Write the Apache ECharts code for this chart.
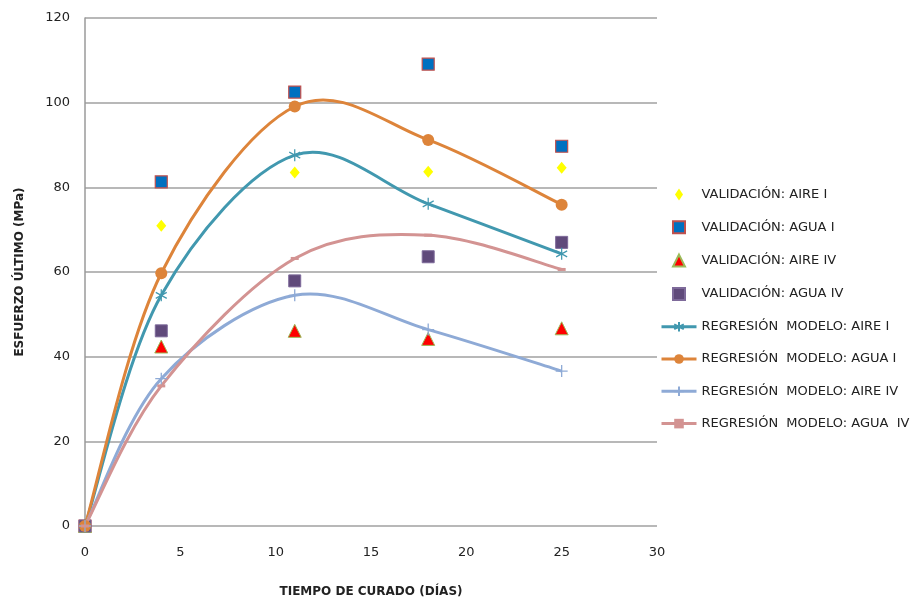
<!DOCTYPE html>
<html>
<head>
<meta charset="utf-8">
<script src="https://cdn.jsdelivr.net/npm/echarts@6/dist/echarts.min.js"></script>
<style>html,body{margin:0;padding:0;background:#fff;}#c{width:924px;height:597px;}</style>
</head>
<body>
<div id="c"></div>
<script>
// Days of curing
const days = [0, 4, 11, 18, 25];
// Validation data (MPa)
const valAireI  = [0, 70.9, 83.5, 83.7, 84.6];
const valAguaI  = [0, 81.3, 102.5, 109.1, 89.7];
const valAireIV = [0, 42.4, 46.1, 44.2, 46.7];
const valAguaIV = [0, 46.1, 57.9, 63.6, 67.0];
// Regression model (MPa)
const regAireI  = [0, 54.5, 87.6, 76.1, 64.3];
const regAguaI  = [0, 59.7, 99.1, 91.2, 75.9];
const regAireIV = [0, 34.8, 54.5, 46.4, 36.6];
const regAguaIV = [0, 33.1, 63.2, 68.7, 60.6];
// Axis ticks
const xTicks = [0, 5, 10, 15, 20, 25, 30];
const yTicks = [0, 20, 40, 60, 80, 100, 120];

const names = [
  'VALIDACIÓN: AIRE I', 'VALIDACIÓN: AGUA I', 'VALIDACIÓN: AIRE IV', 'VALIDACIÓN: AGUA IV',
  'REGRESIÓN  MODELO: AIRE I', 'REGRESIÓN  MODELO: AGUA I', 'REGRESIÓN  MODELO: AIRE IV', 'REGRESIÓN  MODELO: AGUA  IV'
];
const pair = arr => days.map((d, i) => [d, arr[i]]);

function scatter(name, arr, symbol, size, color, border, bw) {
  return { name, type: 'scatter', data: pair(arr), symbol, symbolSize: size,
    itemStyle: { color, borderColor: border, borderWidth: bw, opacity: 1 }, z: 2 };
}
// line series: markers + legend entry (its own straight line is hidden; the smooth curve is drawn by curve())
function line(name, arr, color, symbol, size, fillSym) {
  return { name, type: 'line', data: pair(arr), symbol, symbolSize: size, showSymbol: true,
    lineStyle: { color, width: 3, opacity: 0 },
    itemStyle: { color: fillSym ? color : 'rgba(0,0,0,0)', borderColor: color, borderWidth: fillSym ? 0 : 1.3 }, z: 4 };
}
// smoothed curve (Catmull-Rom style, like a spreadsheet smoothed line), positioned via api.coord
function curve(arr, color) {
  return { type: 'custom', name: '_curve', data: pair(arr), z: 3, silent: true,
    renderItem(params, api) {
      if (params.dataIndex !== 0) return null;
      const pts = arr.map((v, i) => api.coord([days[i], v]));
      let d = 'M' + pts[0][0] + ',' + pts[0][1];
      for (let i = 0; i < pts.length - 1; i++) {
        const p0 = pts[Math.max(i - 1, 0)], p1 = pts[i], p2 = pts[i + 1], p3 = pts[Math.min(i + 2, pts.length - 1)];
        const c1 = [p1[0] + (p2[0] - p0[0]) / 6, p1[1] + (p2[1] - p0[1]) / 6];
        const c2 = [p2[0] - (p3[0] - p1[0]) / 6, p2[1] - (p3[1] - p1[1]) / 6];
        d += 'C' + c1[0] + ',' + c1[1] + ',' + c2[0] + ',' + c2[1] + ',' + p2[0] + ',' + p2[1];
      }
      return { type: 'path', shape: { pathData: d }, style: { stroke: color, lineWidth: 3, fill: 'none' } };
    }
  };
}
const asterisk = 'path://M0,-5L0,5M-4.33,-2.5L4.33,2.5M-4.33,2.5L4.33,-2.5';
const plus = 'path://M0,-6L0,6M-6,0L6,0';
const diamondIcon = 'path://M5,0L9,6L5,12L1,6Z';
const squareIcon = 'path://M0,0L10,0L10,10L0,10Z';
const triIcon = 'path://M5,0L10,10L0,10Z';

const cols = ['#4198af', '#dd843a', '#8eaad6', '#d39392'];

const chart = echarts.init(document.getElementById('c'), null, { renderer: 'canvas' });
chart.setOption({
  animation: false,
  textStyle: { fontFamily: 'DejaVu Sans' },
  grid: { left: 85, right: 267, top: 18, bottom: 71, containLabel: false, outerBoundsMode: 'none' },
  xAxis: {
    type: 'value', min: xTicks[0], max: xTicks[xTicks.length - 1], interval: 5,
    name: 'TIEMPO DE CURADO (DÍAS)', nameLocation: 'middle', nameGap: 60,
    nameTextStyle: { fontWeight: 'bold', fontSize: 12, color: '#222' },
    axisLine: { show: false }, axisTick: { show: false },
    axisLabel: { fontSize: 13, color: '#222', margin: 20 },
    splitLine: { show: false }
  },
  yAxis: {
    type: 'value', min: yTicks[0], max: yTicks[yTicks.length - 1], interval: 20,
    name: 'ESFUERZO ÚLTIMO (MPa)', nameLocation: 'middle', nameGap: 59,
    nameTextStyle: { fontWeight: 'bold', fontSize: 12, color: '#222' },
    axisLine: { show: true, onZero: false, lineStyle: { color: '#9a9a9a', width: 1.5 } },
    axisTick: { show: false },
    axisLabel: { fontSize: 13, color: '#222', margin: 15 },
    splitLine: { show: true, lineStyle: { color: '#a0a0a0', width: 1.5 } }
  },
  legend: {
    orient: 'vertical', left: 655, top: 183, itemGap: 19.3, itemWidth: 35, itemHeight: 12,
    symbolKeepAspect: true,
    lineStyle: { opacity: 1, width: 3 },
    textStyle: { fontSize: 13, color: '#222', fontFamily: 'DejaVu Sans' },
    data: [
      { name: names[0], icon: diamondIcon },
      { name: names[1], icon: squareIcon },
      { name: names[2], icon: triIcon },
      { name: names[3], icon: squareIcon },
      names[4], names[5], names[6], names[7]
    ]
  },
  series: [
    scatter(names[0], valAireI, 'diamond', [10, 12], '#ffff00', '#ffff00', 0),
    scatter(names[1], valAguaI, 'rect', 12, '#0070c0', '#c0504d', 1.2),
    scatter(names[2], valAireIV, 'triangle', 13, '#ff0000', '#9bbb59', 1),
    scatter(names[3], valAguaIV, 'rect', 12, '#604a7b', '#7e6a9a', 1),
    curve(regAireI, cols[0]),
    curve(regAguaI, cols[1]),
    curve(regAireIV, cols[2]),
    curve(regAguaIV, cols[3]),
    line(names[4], regAireI, cols[0], asterisk, [11, 12], false),
    line(names[5], regAguaI, cols[1], 'circle', 12, true),
    line(names[6], regAireIV, cols[2], plus, 12, false),
    line(names[7], regAguaIV, cols[3], 'rect', [8, 3], true)
  ]
});
</script>
</body>
</html>
